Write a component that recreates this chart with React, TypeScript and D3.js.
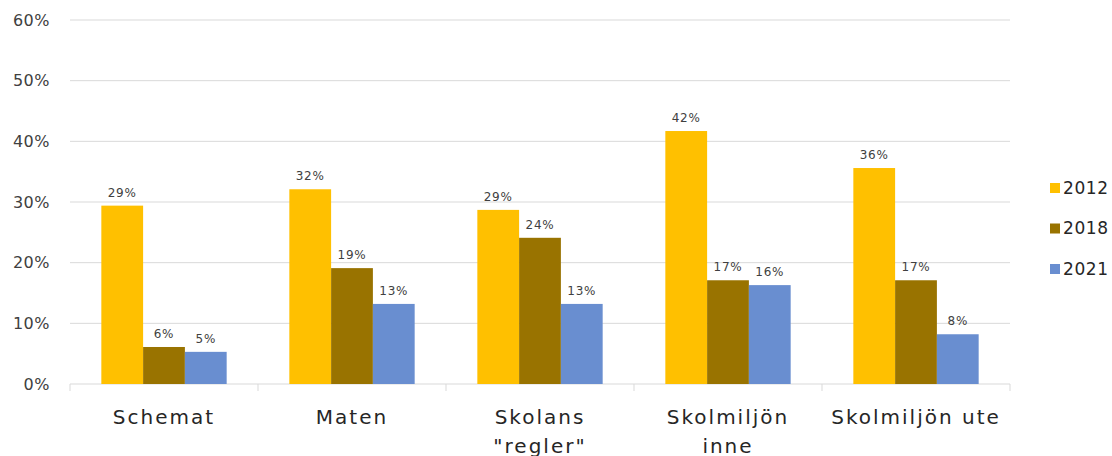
import React, { useRef, useEffect } from "react";
import * as d3 from "d3";

const categories = ["Schemat", "Maten", "Skolans \"regler\"", "Skolmiljön inne", "Skolmiljön ute"];
const categoryLines = [["Schemat"], ["Maten"], ["Skolans", "\"regler\""], ["Skolmiljön", "inne"], ["Skolmiljön ute"]];
const seriesNames = ["2012", "2018", "2021"];
const seriesColors = ["#FFC000", "#997300", "#698ED0"];
const values2012 = [0.294, 0.321, 0.287, 0.417, 0.356];
const values2018 = [0.061, 0.191, 0.241, 0.171, 0.171];
const values2021 = [0.053, 0.132, 0.132, 0.163, 0.082];
const yTicks = [0, 0.1, 0.2, 0.3, 0.4, 0.5, 0.6];

const width = 1112;
const height = 456;
const font = "'DejaVu Sans', sans-serif";

export default function App() {
  const svgRef = useRef<SVGSVGElement>(null);

  useEffect(() => {
    const svg = d3.select(svgRef.current);
    svg.selectAll("*").remove();

    const margin = { top: 20, right: 102, bottom: 72, left: 70 };
    const plotW = width - margin.left - margin.right;
    const plotH = 384 - margin.top;

    const g = svg.append("g").attr("transform", `translate(${margin.left},${margin.top})`);

    const x0 = d3.scaleBand().domain(categories).range([0, plotW]).paddingInner(0).paddingOuter(0);
    const inner = d3.scaleBand().domain(seriesNames).range([0, x0.bandwidth()]).paddingOuter(0.75).paddingInner(0);
    const y = d3.scaleLinear().domain([0, 0.6]).range([plotH, 0]);

    // grid
    g.append("g")
      .selectAll("line")
      .data(yTicks)
      .enter()
      .append("line")
      .attr("x1", 0)
      .attr("x2", plotW)
      .attr("y1", (d) => y(d))
      .attr("y2", (d) => y(d))
      .attr("stroke", "#d9d9d9")
      .attr("stroke-width", 1);

    // y labels
    g.append("g")
      .selectAll("text")
      .data(yTicks)
      .enter()
      .append("text")
      .attr("x", -20)
      .attr("y", (d) => y(d))
      .attr("dy", "0.35em")
      .attr("text-anchor", "end")
      .attr("font-family", font)
      .attr("font-size", "16px")
      .attr("letter-spacing", "0.5px")
      .attr("fill", "#404040")
      .text((d) => d3.format(".0%")(d));

    // x ticks at band edges
    const edges = categories.map((c) => x0(c) || 0).concat([plotW]);
    g.append("g")
      .selectAll("line")
      .data(edges)
      .enter()
      .append("line")
      .attr("x1", (d) => d)
      .attr("x2", (d) => d)
      .attr("y1", plotH)
      .attr("y2", plotH + 7)
      .attr("stroke", "#d9d9d9");

    const series = [values2012, values2018, values2021];

    series.forEach((vals, si) => {
      const name = seriesNames[si];
      g.append("g")
        .selectAll("rect")
        .data(vals)
        .enter()
        .append("rect")
        .attr("x", (d, i) => (x0(categories[i]) || 0) + (inner(name) || 0))
        .attr("y", (d) => y(d))
        .attr("width", inner.bandwidth())
        .attr("height", (d) => plotH - y(d))
        .attr("fill", seriesColors[si]);

      g.append("g")
        .selectAll("text")
        .data(vals)
        .enter()
        .append("text")
        .attr("x", (d, i) => (x0(categories[i]) || 0) + (inner(name) || 0) + inner.bandwidth() / 2)
        .attr("y", (d) => y(d) - 9)
        .attr("text-anchor", "middle")
        .attr("font-family", font)
        .attr("font-size", "12px")
        .attr("letter-spacing", "0.8px")
        .attr("fill", "#404040")
        .text((d) => d3.format(".0%")(d));
    });

    // category labels
    categories.forEach((c, i) => {
      const cx = (x0(c) || 0) + x0.bandwidth() / 2;
      const t = g
        .append("text")
        .attr("x", cx)
        .attr("y", plotH + 40)
        .attr("text-anchor", "middle")
        .attr("font-family", font)
        .attr("font-size", "20px")
        .attr("letter-spacing", "2px")
        .attr("fill", "#262626");
      categoryLines[i].forEach((line, li) => {
        t.append("tspan").attr("x", cx).attr("dy", li === 0 ? 0 : 29).text(line);
      });
    });

    // legend
    const legend = svg.append("g").attr("transform", "translate(1050,188)");
    seriesNames.forEach((s, i) => {
      const row = legend.append("g").attr("transform", `translate(0,${i * 40.5})`);
      row.append("rect").attr("x", 0).attr("y", -5).attr("width", 10).attr("height", 10).attr("fill", seriesColors[i]);
      row
        .append("text")
        .attr("x", 13)
        .attr("y", 0)
        .attr("dy", "0.35em")
        .attr("font-family", font)
        .attr("font-size", "17px")
        .attr("letter-spacing", "0.6px")
        .attr("fill", "#262626")
        .text(s);
    });
  }, []);

  return (
    <svg
      ref={svgRef}
      width={width}
      height={height}
      style={{ position: "absolute", left: 0, top: 0, background: "#fff" }}
    />
  );
}
